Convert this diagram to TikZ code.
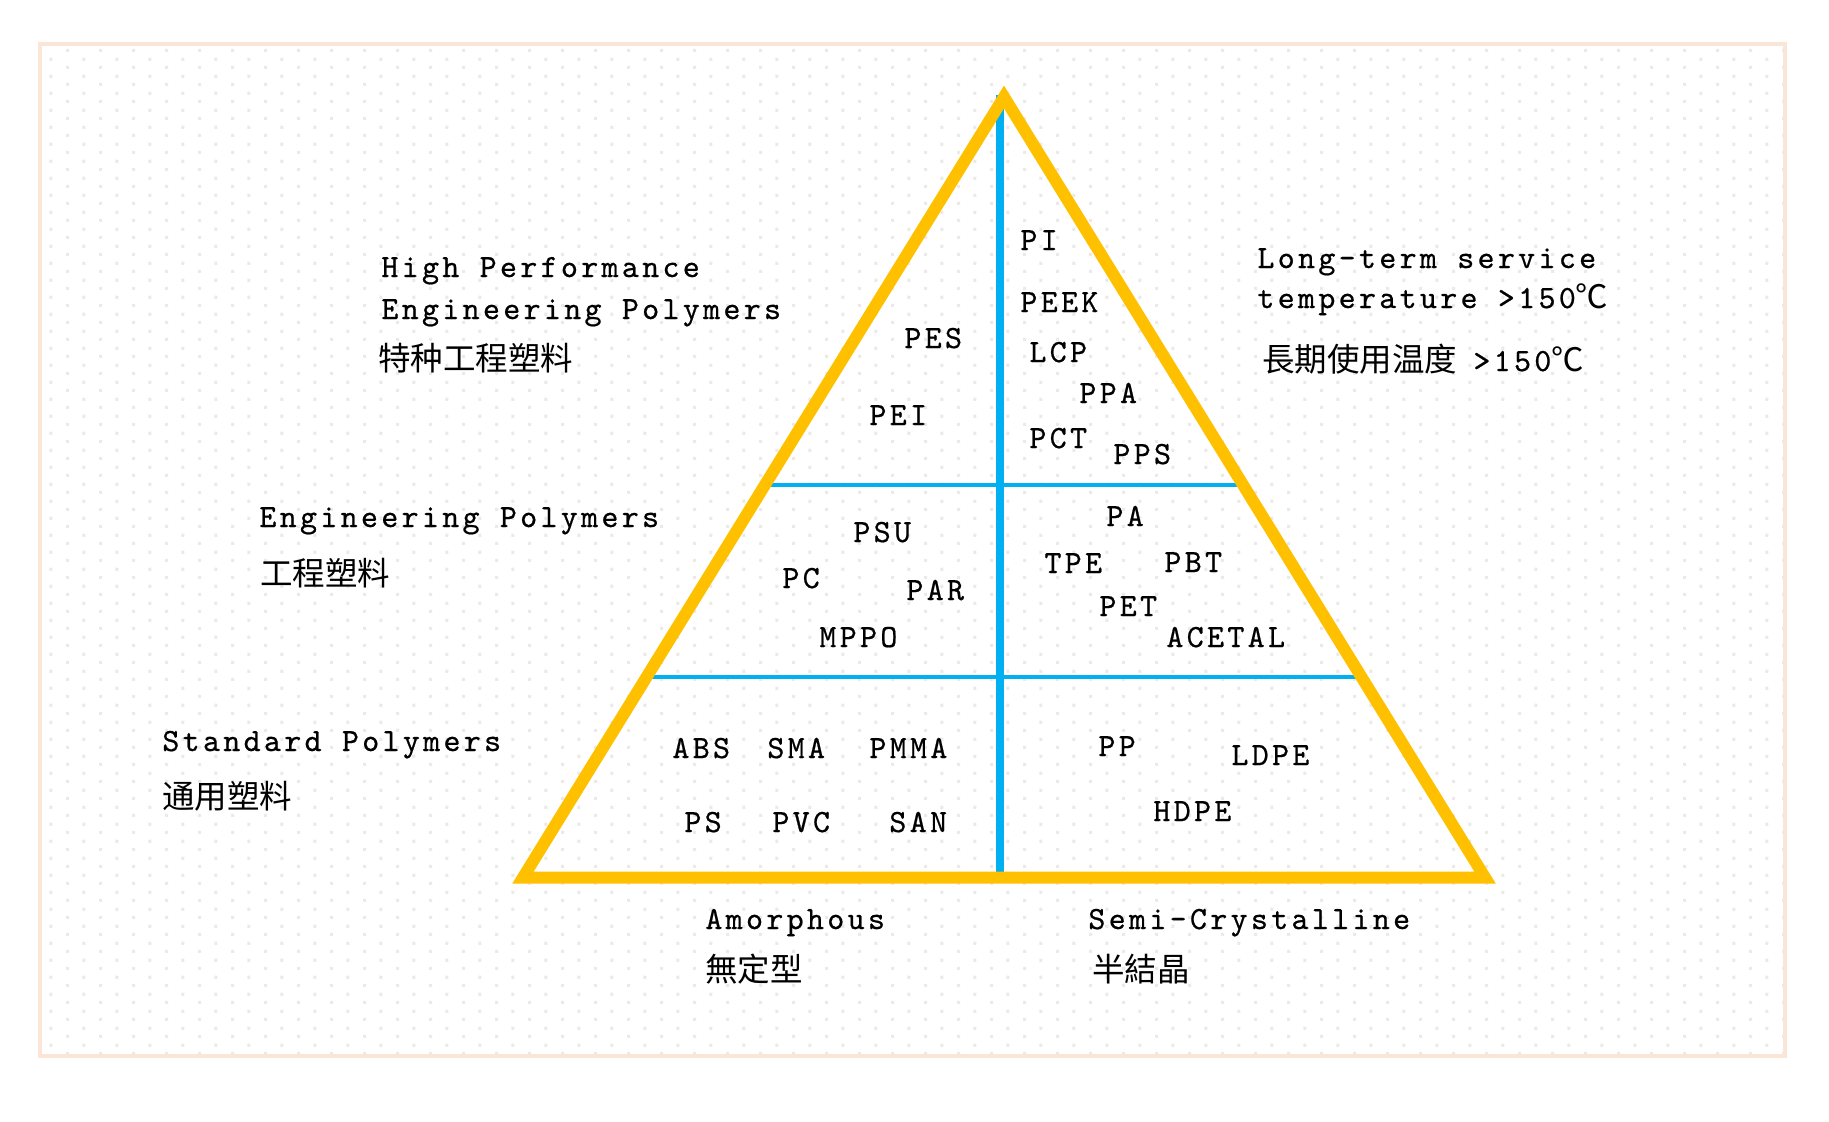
\documentclass[tikz,border=0pt]{standalone}
\usepackage{fontspec}
\usetikzlibrary{calc,patterns}
\newfontfamily\polyfont{lmmono10-regular}[Extension=.otf,LetterSpace=10.2,FakeBold=0.6]
\newfontfamily\cjkfont{Noto Sans CJK SC}
\newcommand{\polysize}{\polyfont\fontsize{16.2}{18}\selectfont}
\newcommand{\cjksize}{\cjkfont\fontsize{16.25}{20}\selectfont}
\newcommand{\celsiusmark}{{\cjksize ℃}}
\definecolor{pyramidgold}{HTML}{FFC000}
\definecolor{dividerblue}{HTML}{00B0F0}
\definecolor{framepeach}{HTML}{FBE5D6}
\definecolor{dotgrey}{RGB}{236,234,230}
\pgfdeclarepatternformonly{bgdots}{\pgfpointorigin}{\pgfpoint{16.67pt}{8.33pt}}{\pgfpoint{16.67pt}{8.33pt}}{
  \pgfpathrectangle{\pgfpoint{0pt}{0pt}}{\pgfpoint{1.6pt}{1.6pt}}
  \pgfpathrectangle{\pgfpoint{8.33pt}{4.17pt}}{\pgfpoint{1.6pt}{1.6pt}}
  \pgfusepath{fill}
}
\begin{document}
\begin{tikzpicture}[x=0.5pt,y=-0.5pt,
  poly/.style={anchor=base west,inner sep=0pt,font=\polysize},
  cjk/.style={anchor=base west,inner sep=0pt,font=\cjksize}]
\useasboundingbox (0,0) rectangle (1829,1121);
% background
\fill [pattern=bgdots,pattern color=dotgrey] (40,44) rectangle (1785,1056);
\draw [framepeach,line width=2pt] (40,44) rectangle (1785,1056);
% pyramid
\coordinate (apex) at (1004,97);
\coordinate (baseL) at (523,877.5);
\coordinate (baseR) at (1485,877.5);
\coordinate (engL) at ($(baseL)!0.503!(apex)$);
\coordinate (engR) at ($(baseR)!0.503!(apex)$);
\coordinate (stdL) at ($(baseL)!0.257!(apex)$);
\coordinate (stdR) at ($(baseR)!0.257!(apex)$);
\draw [dividerblue,line width=4pt] (1000,95) -- (1000,877);
\draw [dividerblue,line width=2pt] (engL) -- (engR);
\draw [dividerblue,line width=2pt] (stdL) -- (stdR);
\draw [pyramidgold,line width=6pt,miter limit=10] (apex) -- (baseR) -- (baseL) -- cycle;
% class labels
\node [poly] (hpA) at (381,277) {High Performance};
\node [poly] (hpB) at (381,319) {Engineering Polymers};
\node [cjk] (hpC) at (378,370) {特种工程塑料};
\node [poly] (epA) at (259,527) {Engineering Polymers};
\node [cjk] (epB) at (260,585) {工程塑料};
\node [poly] (spA) at (162,751) {Standard Polymers};
\node [cjk] (spB) at (162,808) {通用塑料};
\node [poly] (ltA) at (1257,268) {Long-term service};
\node [poly] (ltB) at (1257,308) {temperature >150\celsiusmark};
\node [cjk] (ltC) at (1262,371) {長期使用温度\hspace{8pt}{\polysize >150}\celsiusmark};
\node [poly] (amA) at (705,929) {Amorphous};
\node [cjk] (amB) at (705,981) {無定型};
\node [poly] (scA) at (1088,929) {Semi-Crystalline};
\node [cjk] (scB) at (1092,981) {半結晶};
% high performance
\node [poly] (pes) at (904,348) {PES};
\node [poly] (pei) at (869,425) {PEI};
\node [poly] (pi) at (1020,250) {PI};
\node [poly] (peek) at (1020,312) {PEEK};
\node [poly] (lcp) at (1029,362) {LCP};
\node [poly] (ppa) at (1079,403) {PPA};
\node [poly] (pct) at (1029,448) {PCT};
\node [poly] (pps) at (1113,464) {PPS};
% engineering
\node [poly] (psu) at (853,542) {PSU};
\node [poly] (pc) at (782,588) {PC};
\node [poly] (par) at (906,600) {PAR};
\node [poly] (mppo) at (819,647) {MPPO};
\node [poly] (pa) at (1106,526) {PA};
\node [poly] (tpe) at (1044,573) {TPE};
\node [poly] (pbt) at (1164,572) {PBT};
\node [poly] (pet) at (1099,616) {PET};
\node [poly] (acetal) at (1166,647) {ACETAL};
% standard
\node [poly] (abs) at (672,758) {ABS};
\node [poly] (sma) at (767,758) {SMA};
\node [poly] (pmma) at (869,758) {PMMA};
\node [poly] (ps) at (684,832) {PS};
\node [poly] (pvc) at (772,832) {PVC};
\node [poly] (san) at (889,832) {SAN};
\node [poly] (pp) at (1098,756) {PP};
\node [poly] (ldpe) at (1231,765) {LDPE};
\node [poly] (hdpe) at (1153,821) {HDPE};
\end{tikzpicture}
\end{document}
